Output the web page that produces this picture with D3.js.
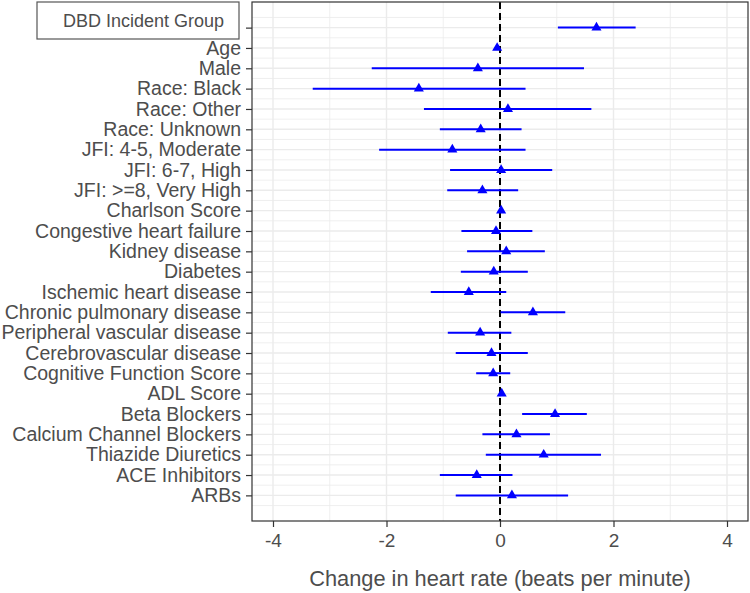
<!DOCTYPE html>
<html>
<head>
<meta charset="utf-8">
<script src="https://cdn.jsdelivr.net/npm/d3@7"></script>
<style>
  body { margin: 0; background: #fff; }
  text { font-family: "Liberation Sans", Arial, sans-serif; }
</style>
</head>
<body>
<div id="container"><svg></svg></div>
<script>
// rows, top to bottom (first row is the incident group, its label is hidden by the legend box)
let labels = ['', 'Age', 'Male', 'Race: Black', 'Race: Other', 'Race: Unknown',
    'JFI: 4-5, Moderate', 'JFI: 6-7, High', 'JFI: >=8, Very High', 'Charlson Score',
    'Congestive heart failure', 'Kidney disease', 'Diabetes', 'Ischemic heart disease',
    'Chronic pulmonary disease', 'Peripheral vascular disease', 'Cerebrovascular disease',
    'Cognitive Function Score', 'ADL Score', 'Beta Blockers', 'Calcium Channel Blockers',
    'Thiazide Diuretics', 'ACE Inhibitors', 'ARBs'];
let estimate = [1.70, -0.05, -0.39, -1.43, 0.14, -0.34, -0.84, 0.02, -0.31, 0.02,
    -0.07, 0.11, -0.11, -0.55, 0.58, -0.35, -0.15, -0.12, 0.03, 0.97, 0.29, 0.77, -0.41, 0.21];
let lower = [1.02, -0.09, -2.26, -3.30, -1.34, -1.06, -2.13, -0.88, -0.93, -0.02,
    -0.68, -0.58, -0.69, -1.22, 0.01, -0.92, -0.78, -0.42, -0.01, 0.39, -0.31, -0.25, -1.06, -0.78];
let upper = [2.39, -0.01, 1.48, 0.45, 1.61, 0.38, 0.45, 0.92, 0.32, 0.06,
    0.57, 0.79, 0.49, 0.11, 1.15, 0.20, 0.49, 0.18, 0.07, 1.53, 0.88, 1.78, 0.22, 1.20];
let xTicks = [-4, -2, 0, 2, 4];
let xMinor = [-3, -1, 1, 3];
let legendTitle = 'DBD Incident Group';
let xTitle = 'Change in heart rate (beats per minute)';

let width = 750;
let height = 593;
let panel = {left: 252, right: 748, top: 2, bottom: 521};
let textColor = '#4d4d4d';

let rows = labels.map((d, i) => ({
    label: d, pos: i + 1, est: estimate[i], lo: lower[i], hi: upper[i]
}));

function draw_forest() {
    let svg = d3.select('#container').select('svg')
        .attr('width', width)
        .attr('height', height);

    let x = d3.scaleLinear().domain([-4.37, 4.37]).range([panel.left, panel.right]);
    let y = d3.scaleLinear().domain([-0.26, labels.length + 1.26]).range([panel.top, panel.bottom]);

    // grid
    let grid = svg.append('g').attr('fill', 'none');
    grid.selectAll('.hminor')
        .data(d3.range(0, labels.length + 1).map(d => d + 0.5))
        .join('line')
        .attr('x1', panel.left).attr('x2', panel.right)
        .attr('y1', d => y(d)).attr('y2', d => y(d))
        .attr('stroke', '#ebebeb').attr('stroke-width', 0.8);
    grid.selectAll('.vminor')
        .data(xMinor)
        .join('line')
        .attr('x1', d => x(d)).attr('x2', d => x(d))
        .attr('y1', panel.top).attr('y2', panel.bottom)
        .attr('stroke', '#ebebeb').attr('stroke-width', 0.8);
    grid.selectAll('.hmajor')
        .data(rows)
        .join('line')
        .attr('x1', panel.left).attr('x2', panel.right)
        .attr('y1', d => y(d.pos)).attr('y2', d => y(d.pos))
        .attr('stroke', '#ebebeb').attr('stroke-width', 1.4);
    grid.selectAll('.vmajor')
        .data(xTicks)
        .join('line')
        .attr('x1', d => x(d)).attr('x2', d => x(d))
        .attr('y1', panel.top).attr('y2', panel.bottom)
        .attr('stroke', '#ebebeb').attr('stroke-width', 1.4);

    // reference line at zero
    svg.append('line')
        .attr('x1', x(0)).attr('x2', x(0))
        .attr('y1', panel.top).attr('y2', panel.bottom)
        .attr('stroke', '#000')
        .attr('stroke-width', 2)
        .attr('stroke-dasharray', '7,4');

    // error bars
    svg.append('g')
        .selectAll('line')
        .data(rows)
        .join('line')
        .attr('x1', d => x(d.lo)).attr('x2', d => x(d.hi))
        .attr('y1', d => y(d.pos)).attr('y2', d => y(d.pos))
        .attr('stroke', '#0000ff')
        .attr('stroke-width', 2);

    // points
    svg.append('g')
        .selectAll('path')
        .data(rows)
        .join('path')
        .attr('d', d3.symbol().type(d3.symbolTriangle).size(44))
        .attr('transform', d => `translate(${x(d.est)},${y(d.pos)})`)
        .attr('fill', '#0000ff');

    // panel border
    svg.append('rect')
        .attr('x', panel.left).attr('y', panel.top)
        .attr('width', panel.right - panel.left)
        .attr('height', panel.bottom - panel.top)
        .attr('fill', 'none')
        .attr('stroke', '#333')
        .attr('stroke-width', 1.2);

    // y axis
    let yAxis = svg.append('g')
        .attr('transform', `translate(${panel.left},0)`)
        .call(d3.axisLeft(y)
            .tickValues(rows.map(d => d.pos))
            .tickFormat(d => labels[d - 1])
            .tickSize(6)
            .tickPadding(5));
    yAxis.select('.domain').remove();
    yAxis.selectAll('.tick line').attr('stroke', '#333').attr('stroke-width', 1.2);
    yAxis.selectAll('.tick text')
        .attr('fill', textColor)
        .style('font-size', '19.5px');

    // x axis
    let xAxis = svg.append('g')
        .attr('transform', `translate(0,${panel.bottom})`)
        .call(d3.axisBottom(x)
            .tickValues(xTicks)
            .tickFormat(d => d < 0 ? '-' + Math.abs(d) : d)
            .tickSize(6)
            .tickPadding(7));
    xAxis.select('.domain').remove();
    xAxis.selectAll('.tick line').attr('stroke', '#333').attr('stroke-width', 1.2);
    xAxis.selectAll('.tick text')
        .attr('fill', textColor)
        .style('font-size', '19px');

    svg.append('text')
        .attr('x', (panel.left + panel.right) / 2)
        .attr('y', 586)
        .attr('text-anchor', 'middle')
        .attr('fill', textColor)
        .style('font-size', '21.8px')
        .text(xTitle);

    // legend box
    svg.append('rect')
        .attr('x', 37).attr('y', 2)
        .attr('width', 202).attr('height', 37)
        .attr('fill', '#fff')
        .attr('stroke', '#555')
        .attr('stroke-width', 1.2);
    svg.append('text')
        .attr('x', 63).attr('y', 27)
        .attr('fill', textColor)
        .style('font-size', '18px')
        .text(legendTitle);
}

draw_forest();
</script>
</body>
</html>
